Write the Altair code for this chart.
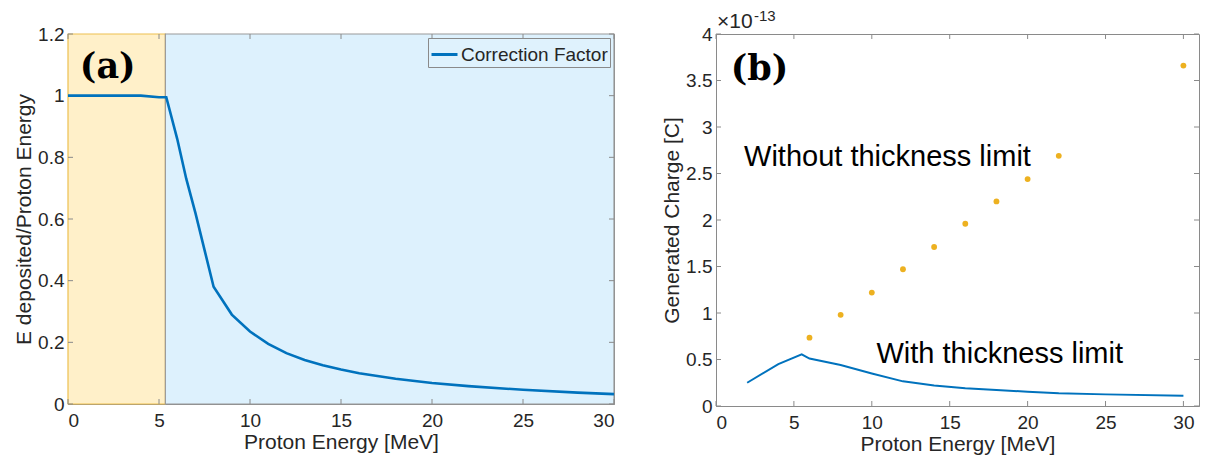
import altair as alt
import pandas as pd

# ---------------- Panel (a) data ----------------
energy_a = [0, 1, 2, 3, 4, 5, 5.4, 6, 6.5, 7, 7.5, 8, 9, 10, 11, 12, 13, 14, 15, 16, 18, 20, 22, 25, 28, 30]
factor_a = [1.0, 1.0, 1.0, 1.0, 1.0, 0.995, 0.995, 0.86, 0.73, 0.62, 0.50, 0.38, 0.29, 0.235, 0.195, 0.165,
            0.143, 0.126, 0.112, 0.100, 0.082, 0.068, 0.058, 0.046, 0.037, 0.032]
region_start = [0, 5.35]
region_end = [5.35, 30]
region_fill = ["#FFF0C9", "#DDF1FD"]
region_stroke = ["#EDC050", "#9A9A9A"]
xticks_a = [0, 5, 10, 15, 20, 25, 30]
yticks_a = [0, 0.2, 0.4, 0.6, 0.8, 1.0, 1.2]

# ---------------- Panel (b) data ----------------
energy_line_b = [2, 4, 5.5, 6, 8, 10, 12, 14, 16, 18, 20, 22, 25, 30]
charge_line_b = [0.25, 0.45, 0.555, 0.51, 0.44, 0.35, 0.265, 0.22, 0.19, 0.172, 0.154, 0.136, 0.125, 0.11]
energy_pts_b = [6, 8, 10, 12, 14, 16, 18, 20, 22, 30]
charge_pts_b = [0.735, 0.98, 1.22, 1.47, 1.71, 1.96, 2.20, 2.44, 2.69, 3.66]
xticks_b = [0, 5, 10, 15, 20, 25, 30]
yticks_b = [0, 0.5, 1, 1.5, 2, 2.5, 3, 3.5, 4]

W_A, H_A = 546, 370
W_B, H_B = 483, 372
FONT = "Liberation Sans"
BLUE = "#0072BD"
ORANGE = "#EDB120"
GRAY = "#8A8A8A"
TXT = "#262626"

df_a = pd.DataFrame({"E": energy_a, "F": factor_a, "series": "Correction Factor"})
df_reg = pd.DataFrame({"x0": region_start, "x1": region_end, "fill": region_fill, "stroke": region_stroke})

xa = alt.X("E:Q", scale=alt.Scale(domain=[0, 30], nice=False),
           axis=alt.Axis(values=xticks_a, title="Proton Energy [MeV]", format="~g"))
ya = alt.Y("F:Q", scale=alt.Scale(domain=[0, 1.2], nice=False),
           axis=alt.Axis(values=yticks_a, title="E deposited/Proton Energy", format=".2~f"))

regions = alt.Chart(df_reg).mark_rect(strokeWidth=1.2).encode(
    x=alt.X("x0:Q", scale=alt.Scale(domain=[0, 30], nice=False)),
    x2="x1:Q",
    y=alt.datum(0, scale=alt.Scale(domain=[0, 1.2], nice=False)),
    y2=alt.datum(1.2),
    fill=alt.Fill("fill:N", scale=None),
    stroke=alt.Stroke("stroke:N", scale=None),
)

def inward_ticks(xvals, yvals, w, h, xfield, yfield):
    dx = pd.DataFrame({xfield: xvals})
    dy = pd.DataFrame({yfield: yvals})
    t = []
    t.append(alt.Chart(dx).mark_rule(color=GRAY, strokeWidth=1).encode(
        x=f"{xfield}:Q", y=alt.value(0), y2=alt.value(5)))
    t.append(alt.Chart(dx).mark_rule(color=GRAY, strokeWidth=1).encode(
        x=f"{xfield}:Q", y=alt.value(h - 5), y2=alt.value(h)))
    t.append(alt.Chart(dy).mark_rule(color=GRAY, strokeWidth=1).encode(
        y=f"{yfield}:Q", x=alt.value(w - 5), x2=alt.value(w)))
    t.append(alt.Chart(dy).mark_rule(color=GRAY, strokeWidth=1).encode(
        y=f"{yfield}:Q", x=alt.value(0), x2=alt.value(5)))
    return t

line_a = alt.Chart(df_a).mark_line(strokeWidth=2.6).encode(
    x=xa, y=ya,
    color=alt.Color("series:N", scale=alt.Scale(range=[BLUE]),
                    legend=alt.Legend(title=None, orient="top-right", offset=4,
                                      symbolType="stroke", symbolSize=676, symbolStrokeWidth=3,
                                      labelFontSize=19, labelFont=FONT, labelColor=TXT,
                                      fillColor="#DFF2FD", strokeColor=GRAY, padding=2,
                                      labelOffset=2)),
)

label_a = alt.Chart(pd.DataFrame({"E": [0.65], "F": [1.093], "t": ["(a)"]})).mark_text(
    font="DejaVu Serif", fontSize=35, fontWeight="bold", align="left", baseline="middle", color="black"
).encode(x="E:Q", y="F:Q", text="t:N")

panel_a = alt.layer(regions, *inward_ticks(xticks_a, yticks_a, W_A, H_A, "E", "F"), line_a, label_a).properties(
    width=W_A, height=H_A)

# ---------------- Panel (b) ----------------
df_lb = pd.DataFrame({"E": energy_line_b, "Q": charge_line_b})
df_pb = pd.DataFrame({"E": energy_pts_b, "Q": charge_pts_b})

xb = alt.X("E:Q", scale=alt.Scale(domain=[0, 31], nice=False),
           axis=alt.Axis(values=xticks_b, title="Proton Energy [MeV]", format="~g"))
yb = alt.Y("Q:Q", scale=alt.Scale(domain=[0, 4], nice=False),
           axis=alt.Axis(values=yticks_b, title="Generated Charge [C]", format=".1~f"))

line_b = alt.Chart(df_lb).mark_line(strokeWidth=2, color=BLUE).encode(x=xb, y=yb)
pts_b = alt.Chart(df_pb).mark_circle(size=34, color=ORANGE, opacity=1).encode(x=xb, y=yb)

ann_df = pd.DataFrame({"E": [1.8, 10.3], "Q": [2.68, 0.56],
                       "t": ["Without thickness limit", "With thickness limit"]})
ann_b = alt.Chart(ann_df).mark_text(font=FONT, fontSize=29, align="left", baseline="middle",
                                    color="black").encode(x="E:Q", y="Q:Q", text="t:N")
label_b = alt.Chart(pd.DataFrame({"E": [0.95], "Q": [3.62], "t": ["(b)"]})).mark_text(
    font="DejaVu Serif", fontSize=35, fontWeight="bold", align="left", baseline="middle", color="black"
).encode(x="E:Q", y="Q:Q", text="t:N")

exp_base = alt.Chart(pd.DataFrame({"t": ["×10"]})).mark_text(
    font=FONT, fontSize=21, align="left", baseline="bottom", color=TXT, dx=1, dy=-2
).encode(x=alt.value(0), y=alt.value(0), text="t:N")
exp_pow = alt.Chart(pd.DataFrame({"t": ["-13"]})).mark_text(
    font=FONT, fontSize=15, align="left", baseline="bottom", color=TXT, dx=38, dy=-10
).encode(x=alt.value(0), y=alt.value(0), text="t:N")

panel_b = alt.layer(*inward_ticks(xticks_b, yticks_b, W_B, H_B, "E", "Q"), line_b, pts_b, ann_b, label_b,
                    exp_base, exp_pow).properties(width=W_B, height=H_B)

chart = alt.hconcat(panel_a, panel_b, spacing=41).resolve_scale(
    x="independent", y="independent", color="independent"
).properties(padding={"left": 5, "top": 0, "right": 0, "bottom": 0}).configure_view(
    stroke=GRAY, strokeWidth=1
).configure_axis(
    labelFont=FONT, labelFontSize=19, labelColor=TXT, titleFont=FONT, titleFontSize=21,
    titleColor=TXT, titleFontWeight="normal", grid=False, ticks=False, domainColor=GRAY,
    labelPadding=4, titlePadding=3
).configure_axisX(
    labelPadding=7, titlePadding=1
)

chart.save("out.html", embed_options={"renderer": "svg", "actions": False})
